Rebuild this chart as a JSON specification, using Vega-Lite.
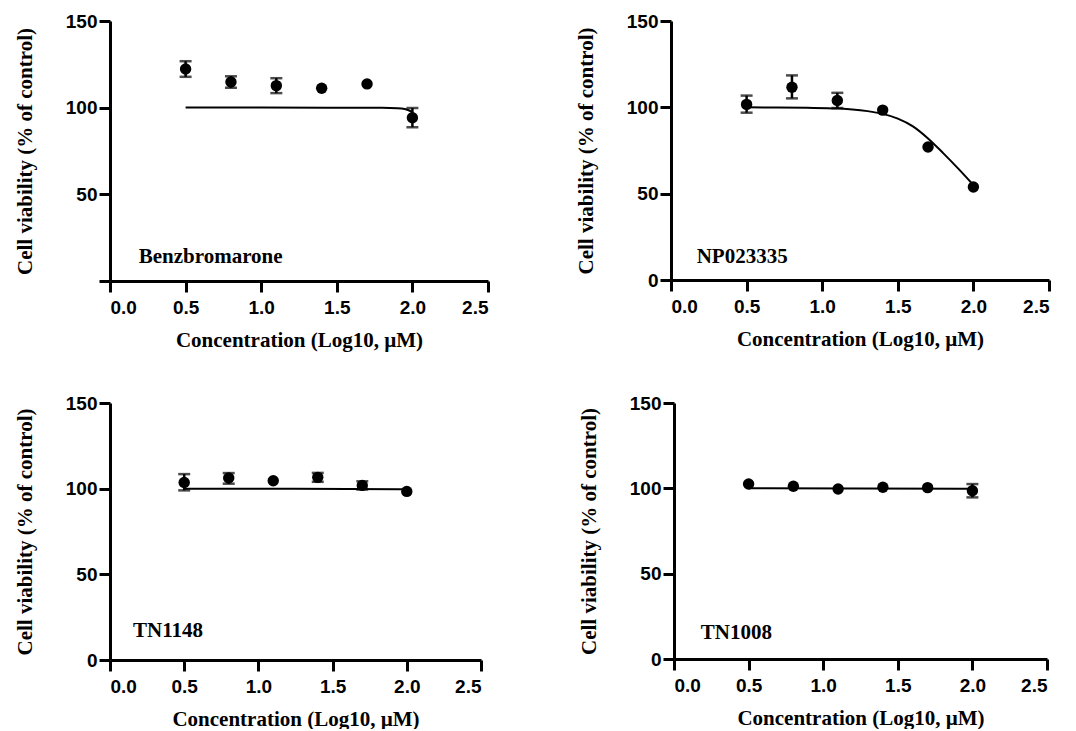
{
  "$schema": "https://vega.github.io/schema/vega-lite/v6.json",
  "padding": {"left": 14, "top": 12, "right": 0, "bottom": 0},
  "background": "white",
  "spacing": 44,
  "datasets": {
    "pts": [
      {"panel": "Benzbromarone", "x": 0.5, "y": 122.3, "lo": 117.8, "hi": 126.8},
      {"panel": "Benzbromarone", "x": 0.8, "y": 114.8, "lo": 111.5, "hi": 118.1},
      {"panel": "Benzbromarone", "x": 1.1, "y": 112.7, "lo": 108.4, "hi": 117.0},
      {"panel": "Benzbromarone", "x": 1.4, "y": 111.2},
      {"panel": "Benzbromarone", "x": 1.7, "y": 113.7},
      {"panel": "Benzbromarone", "x": 2.0, "y": 94.2, "lo": 88.7, "hi": 99.8},
      {"panel": "NP023335", "x": 0.5, "y": 101.7, "lo": 96.9, "hi": 106.8},
      {"panel": "NP023335", "x": 0.8, "y": 111.6, "lo": 105.2, "hi": 118.5},
      {"panel": "NP023335", "x": 1.1, "y": 104.0, "lo": 99.6, "hi": 108.4},
      {"panel": "NP023335", "x": 1.4, "y": 98.4},
      {"panel": "NP023335", "x": 1.7, "y": 77.0},
      {"panel": "NP023335", "x": 2.0, "y": 53.9},
      {"panel": "TN1148", "x": 0.5, "y": 103.6, "lo": 99.0, "hi": 108.5},
      {"panel": "TN1148", "x": 0.8, "y": 106.2, "lo": 102.9, "hi": 109.1},
      {"panel": "TN1148", "x": 1.1, "y": 104.6},
      {"panel": "TN1148", "x": 1.4, "y": 106.6, "lo": 104.0, "hi": 109.2},
      {"panel": "TN1148", "x": 1.7, "y": 101.9, "lo": 99.5, "hi": 104.3},
      {"panel": "TN1148", "x": 2.0, "y": 98.4},
      {"panel": "TN1008", "x": 0.5, "y": 102.5},
      {"panel": "TN1008", "x": 0.8, "y": 101.2},
      {"panel": "TN1008", "x": 1.1, "y": 99.6},
      {"panel": "TN1008", "x": 1.4, "y": 100.6},
      {"panel": "TN1008", "x": 1.7, "y": 100.4},
      {"panel": "TN1008", "x": 2.0, "y": 98.6, "lo": 94.7, "hi": 102.5}
    ],
    "fit": [
      {"panel": "Benzbromarone", "x": 0.5, "y": 100.1},
      {"panel": "Benzbromarone", "x": 1.0, "y": 100.1},
      {"panel": "Benzbromarone", "x": 1.5, "y": 100.0},
      {"panel": "Benzbromarone", "x": 1.8, "y": 99.9},
      {"panel": "Benzbromarone", "x": 1.9, "y": 99.7},
      {"panel": "Benzbromarone", "x": 1.95, "y": 99.2},
      {"panel": "Benzbromarone", "x": 2.0, "y": 97.5},
      {"panel": "NP023335", "x": 0.5, "y": 100.0},
      {"panel": "NP023335", "x": 0.7, "y": 99.9},
      {"panel": "NP023335", "x": 0.9, "y": 99.7},
      {"panel": "NP023335", "x": 1.1, "y": 99.3},
      {"panel": "NP023335", "x": 1.2, "y": 98.8},
      {"panel": "NP023335", "x": 1.3, "y": 97.8},
      {"panel": "NP023335", "x": 1.4, "y": 96.2},
      {"panel": "NP023335", "x": 1.5, "y": 93.5},
      {"panel": "NP023335", "x": 1.6, "y": 89.0},
      {"panel": "NP023335", "x": 1.7, "y": 82.0},
      {"panel": "NP023335", "x": 1.8, "y": 73.5},
      {"panel": "NP023335", "x": 1.9, "y": 64.5},
      {"panel": "NP023335", "x": 2.0, "y": 55.0},
      {"panel": "TN1148", "x": 0.5, "y": 100.0},
      {"panel": "TN1148", "x": 1.25, "y": 99.9},
      {"panel": "TN1148", "x": 2.0, "y": 99.6},
      {"panel": "TN1008", "x": 0.5, "y": 100.0},
      {"panel": "TN1008", "x": 1.25, "y": 99.9},
      {"panel": "TN1008", "x": 2.0, "y": 99.7}
    ],
    "lab": [
      {"panel": "Benzbromarone", "x": 0.19, "y": 10.4, "text": "Benzbromarone"},
      {"panel": "NP023335", "x": 0.17, "y": 10.0, "text": "NP023335"},
      {"panel": "TN1148", "x": 0.155, "y": 13.5, "text": "TN1148"},
      {"panel": "TN1008", "x": 0.18, "y": 11.7, "text": "TN1008"}
    ]
  },
  "vconcat": [
    {
      "spacing": 85,
      "hconcat": [
        {
          "width": 378, "height": 260,
          "layer": [
            {
              "data": {"name": "fit"},
              "transform": [{"filter": "datum.panel == 'Benzbromarone'"}],
              "mark": {"type": "line", "color": "black", "strokeWidth": 2, "interpolate": "monotone"},
              "encoding": {
                "x": {"field": "x", "type": "quantitative", "title": "Concentration (Log10, µM)", "scale": {"domain": [0, 2.5], "nice": false}, "axis": {"values": [0, 0.5, 1, 1.5, 2, 2.5], "format": ".1f", "titlePadding": 12, "labelPadding": 6}},
                "y": {"field": "y", "type": "quantitative", "title": "Cell viability (% of control)", "scale": {"domain": [0, 150], "nice": false}, "axis": {"values": [0, 50, 100, 150], "labelExpr": "datum.value == 0 ? '' : datum.label", "titlePadding": 30, "labelPadding": 2}}
              }
            },
            {
              "data": {"name": "pts"},
              "transform": [{"filter": "datum.panel == 'Benzbromarone' && isValid(datum.lo)"}],
              "mark": {"type": "errorbar", "color": "black", "ticks": {"size": 12, "thickness": 2.5, "color": "black"}, "rule": {"strokeWidth": 2.5, "color": "black"}},
              "encoding": {
                "x": {"field": "x", "type": "quantitative", "title": "Concentration (Log10, µM)"},
                "y": {"field": "lo", "type": "quantitative", "title": "Cell viability (% of control)"},
                "y2": {"field": "hi"}
              }
            },
            {
              "data": {"name": "pts"},
              "transform": [{"filter": "datum.panel == 'Benzbromarone'"}],
              "mark": {"type": "point", "shape": "circle", "filled": true, "color": "black", "size": 130, "opacity": 1},
              "encoding": {
                "x": {"field": "x", "type": "quantitative", "title": "Concentration (Log10, µM)"},
                "y": {"field": "y", "type": "quantitative", "title": "Cell viability (% of control)"}
              }
            },
            {
              "data": {"name": "lab"},
              "transform": [{"filter": "datum.panel == 'Benzbromarone'"}],
              "mark": {"type": "text", "align": "left", "baseline": "alphabetic", "font": "Liberation Serif", "fontWeight": "bold", "fontSize": 21, "color": "black"},
              "encoding": {
                "x": {"field": "x", "type": "quantitative", "title": "Concentration (Log10, µM)"},
                "y": {"field": "y", "type": "quantitative", "title": "Cell viability (% of control)"},
                "text": {"field": "text"}
              }
            }
          ]
        },
        {
          "width": 378, "height": 259,
          "layer": [
            {
              "data": {"name": "fit"},
              "transform": [{"filter": "datum.panel == 'NP023335'"}],
              "mark": {"type": "line", "color": "black", "strokeWidth": 2, "interpolate": "monotone"},
              "encoding": {
                "x": {"field": "x", "type": "quantitative", "title": "Concentration (Log10, µM)", "scale": {"domain": [0, 2.5], "nice": false}, "axis": {"values": [0, 0.5, 1, 1.5, 2, 2.5], "format": ".1f", "titlePadding": 12, "labelPadding": 6}},
                "y": {"field": "y", "type": "quantitative", "title": "Cell viability (% of control)", "scale": {"domain": [0, 150], "nice": false}, "axis": {"values": [0, 50, 100, 150], "titlePadding": 30, "labelPadding": 2}}
              }
            },
            {
              "data": {"name": "pts"},
              "transform": [{"filter": "datum.panel == 'NP023335' && isValid(datum.lo)"}],
              "mark": {"type": "errorbar", "color": "black", "ticks": {"size": 12, "thickness": 2.5, "color": "black"}, "rule": {"strokeWidth": 2.5, "color": "black"}},
              "encoding": {
                "x": {"field": "x", "type": "quantitative", "title": "Concentration (Log10, µM)"},
                "y": {"field": "lo", "type": "quantitative", "title": "Cell viability (% of control)"},
                "y2": {"field": "hi"}
              }
            },
            {
              "data": {"name": "pts"},
              "transform": [{"filter": "datum.panel == 'NP023335'"}],
              "mark": {"type": "point", "shape": "circle", "filled": true, "color": "black", "size": 130, "opacity": 1},
              "encoding": {
                "x": {"field": "x", "type": "quantitative", "title": "Concentration (Log10, µM)"},
                "y": {"field": "y", "type": "quantitative", "title": "Cell viability (% of control)"}
              }
            },
            {
              "data": {"name": "lab"},
              "transform": [{"filter": "datum.panel == 'NP023335'"}],
              "mark": {"type": "text", "align": "left", "baseline": "alphabetic", "font": "Liberation Serif", "fontWeight": "bold", "fontSize": 21, "color": "black"},
              "encoding": {
                "x": {"field": "x", "type": "quantitative", "title": "Concentration (Log10, µM)"},
                "y": {"field": "y", "type": "quantitative", "title": "Cell viability (% of control)"},
                "text": {"field": "text"}
              }
            }
          ]
        }
      ]
    },
    {
      "spacing": 95,
      "hconcat": [
        {
          "width": 371, "height": 257,
          "layer": [
            {
              "data": {"name": "fit"},
              "transform": [{"filter": "datum.panel == 'TN1148'"}],
              "mark": {"type": "line", "color": "black", "strokeWidth": 2, "interpolate": "monotone"},
              "encoding": {
                "x": {"field": "x", "type": "quantitative", "title": "Concentration (Log10, µM)", "scale": {"domain": [0, 2.5], "nice": false}, "axis": {"values": [0, 0.5, 1, 1.5, 2, 2.5], "format": ".1f", "titlePadding": 12, "labelPadding": 6}},
                "y": {"field": "y", "type": "quantitative", "title": "Cell viability (% of control)", "scale": {"domain": [0, 150], "nice": false}, "axis": {"values": [0, 50, 100, 150], "titlePadding": 30, "labelPadding": 2}}
              }
            },
            {
              "data": {"name": "pts"},
              "transform": [{"filter": "datum.panel == 'TN1148' && isValid(datum.lo)"}],
              "mark": {"type": "errorbar", "color": "black", "ticks": {"size": 12, "thickness": 2.5, "color": "black"}, "rule": {"strokeWidth": 2.5, "color": "black"}},
              "encoding": {
                "x": {"field": "x", "type": "quantitative", "title": "Concentration (Log10, µM)"},
                "y": {"field": "lo", "type": "quantitative", "title": "Cell viability (% of control)"},
                "y2": {"field": "hi"}
              }
            },
            {
              "data": {"name": "pts"},
              "transform": [{"filter": "datum.panel == 'TN1148'"}],
              "mark": {"type": "point", "shape": "circle", "filled": true, "color": "black", "size": 130, "opacity": 1},
              "encoding": {
                "x": {"field": "x", "type": "quantitative", "title": "Concentration (Log10, µM)"},
                "y": {"field": "y", "type": "quantitative", "title": "Cell viability (% of control)"}
              }
            },
            {
              "data": {"name": "lab"},
              "transform": [{"filter": "datum.panel == 'TN1148'"}],
              "mark": {"type": "text", "align": "left", "baseline": "alphabetic", "font": "Liberation Serif", "fontWeight": "bold", "fontSize": 21, "color": "black"},
              "encoding": {
                "x": {"field": "x", "type": "quantitative", "title": "Concentration (Log10, µM)"},
                "y": {"field": "y", "type": "quantitative", "title": "Cell viability (% of control)"},
                "text": {"field": "text"}
              }
            }
          ]
        },
        {
          "width": 373, "height": 256,
          "layer": [
            {
              "data": {"name": "fit"},
              "transform": [{"filter": "datum.panel == 'TN1008'"}],
              "mark": {"type": "line", "color": "black", "strokeWidth": 2, "interpolate": "monotone"},
              "encoding": {
                "x": {"field": "x", "type": "quantitative", "title": "Concentration (Log10, µM)", "scale": {"domain": [0, 2.5], "nice": false}, "axis": {"values": [0, 0.5, 1, 1.5, 2, 2.5], "format": ".1f", "titlePadding": 12, "labelPadding": 6}},
                "y": {"field": "y", "type": "quantitative", "title": "Cell viability (% of control)", "scale": {"domain": [0, 150], "nice": false}, "axis": {"values": [0, 50, 100, 150], "titlePadding": 30, "labelPadding": 2}}
              }
            },
            {
              "data": {"name": "pts"},
              "transform": [{"filter": "datum.panel == 'TN1008' && isValid(datum.lo)"}],
              "mark": {"type": "errorbar", "color": "black", "ticks": {"size": 12, "thickness": 2.5, "color": "black"}, "rule": {"strokeWidth": 2.5, "color": "black"}},
              "encoding": {
                "x": {"field": "x", "type": "quantitative", "title": "Concentration (Log10, µM)"},
                "y": {"field": "lo", "type": "quantitative", "title": "Cell viability (% of control)"},
                "y2": {"field": "hi"}
              }
            },
            {
              "data": {"name": "pts"},
              "transform": [{"filter": "datum.panel == 'TN1008'"}],
              "mark": {"type": "point", "shape": "circle", "filled": true, "color": "black", "size": 130, "opacity": 1},
              "encoding": {
                "x": {"field": "x", "type": "quantitative", "title": "Concentration (Log10, µM)"},
                "y": {"field": "y", "type": "quantitative", "title": "Cell viability (% of control)"}
              }
            },
            {
              "data": {"name": "lab"},
              "transform": [{"filter": "datum.panel == 'TN1008'"}],
              "mark": {"type": "text", "align": "left", "baseline": "alphabetic", "font": "Liberation Serif", "fontWeight": "bold", "fontSize": 21, "color": "black"},
              "encoding": {
                "x": {"field": "x", "type": "quantitative", "title": "Concentration (Log10, µM)"},
                "y": {"field": "y", "type": "quantitative", "title": "Cell viability (% of control)"},
                "text": {"field": "text"}
              }
            }
          ]
        }
      ]
    }
  ],
  "config": {
    "view": {"stroke": null},
    "axis": {
      "grid": false,
      "domainColor": "black",
      "domainWidth": 3,
      "tickColor": "black",
      "tickWidth": 3,
      "tickSize": 11,
      "labelFont": "Liberation Sans",
      "labelFontWeight": "bold",
      "labelFontSize": 19,
      "labelColor": "black",
      "labelOverlap": false,
      "titleFont": "Liberation Serif",
      "titleFontWeight": "bold",
      "titleFontSize": 21,
      "titleColor": "black"
    }
  }
}
